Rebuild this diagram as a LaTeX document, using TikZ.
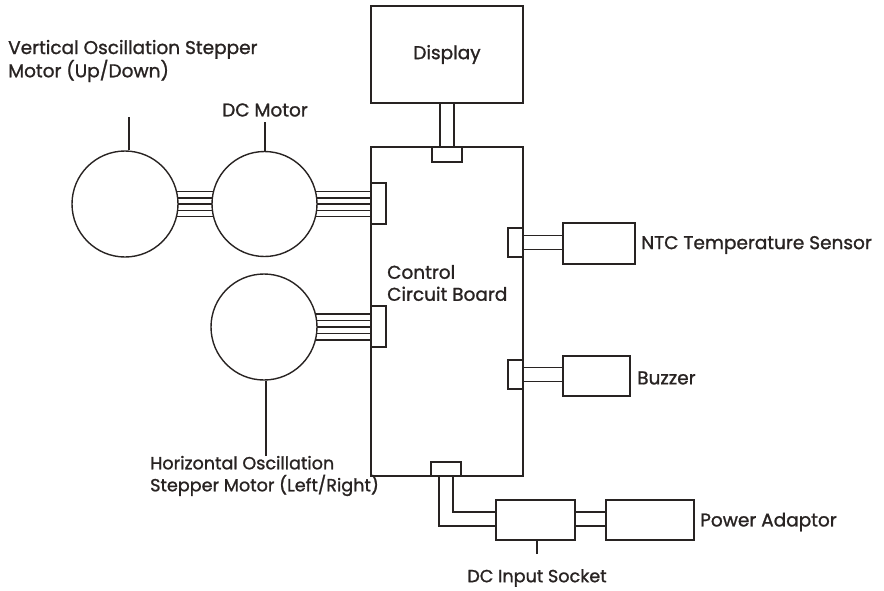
\documentclass[tikz,border=0pt]{standalone}
\usepackage{fontspec}
\setmainfont{Poppins}[FakeBold=1.2,AutoFakeBold=1.2]
\usetikzlibrary{calc}
\definecolor{ink}{RGB}{40,35,34}
\begin{document}
\begin{tikzpicture}[x=1pt,y=-1pt,
  every node/.style={font=\fontsize{18.5}{22}\selectfont\bfseries, text=ink},
  box/.style={draw=ink, line width=1.4pt, rectangle, inner sep=0pt, fill=white},
  motor/.style={draw=ink, line width=1.4pt, circle, inner sep=0pt},
  wire/.style={draw=ink, line width=1.4pt},
  lbl/.style={align=left, inner sep=0pt},
  small/.style={font=\fontsize{17.6}{22}\selectfont\bfseries}]
\useasboundingbox (0,0) rectangle (884,590);

% main boxes
\node[box, minimum width=152pt, minimum height=97pt] (display) at (447,54.5) {Display};
\node[box, minimum width=152pt, minimum height=329pt] (board) at (447,311.5) {};
\node[lbl, anchor=west] (boardlbl) at (387,283) {Control\\Circuit Board};

% connectors on the board
\node[box, minimum width=30pt, minimum height=15pt] (tconn) at (447,154.5) {};
\node[box, minimum width=15pt, minimum height=41pt] (lconnA) at (378.5,203.5) {};
\node[box, minimum width=15pt, minimum height=41pt] (lconnB) at (378.5,326.5) {};
\node[box, minimum width=15pt, minimum height=29pt] (nconn) at (515.5,242.5) {};
\node[box, minimum width=15pt, minimum height=29pt] (bzconn) at (515.5,374.5) {};
\node[box, minimum width=30pt, minimum height=14pt] (bconn) at (446,469) {};

% peripheral boxes
\node[box, minimum width=72pt, minimum height=41pt] (ntc) at (599,243.5) {};
\node[box, minimum width=67pt, minimum height=40pt] (buzz) at (596.5,376) {};
\node[box, minimum width=79pt, minimum height=40pt] (socket) at (535.5,520) {};
\node[box, minimum width=88pt, minimum height=40pt] (power) at (650,520) {};

% motors
\node[motor, minimum size=106pt] (mv) at (125,204) {};
\node[motor, minimum size=105pt] (mdc) at (264.5,204) {};
\node[motor, minimum size=106pt] (mh) at (264,327) {};

% labels
\node[lbl, anchor=west] (lv) at (8,61) {Vertical Oscillation Stepper\\Motor (Up/Down)};
\node[lbl, anchor=center] (ldc) at (265,110) {DC Motor};
\node[lbl, small, anchor=west] (lh) at (150,476) {Horizontal Oscillation\\Stepper Motor (Left/Right)};
\node[lbl, anchor=west] (lntc) at (641,245) {NTC Temperature Sensor};
\node[lbl, anchor=west] (lbz) at (637,378) {Buzzer};
\node[lbl, anchor=west] (lpw) at (700,522) {Power Adaptor};
\node[lbl, small, anchor=center] (lsock) at (537,578) {DC Input Socket};

% leader coordinates
\coordinate (sv) at (129,117);
\coordinate (sdc) at (265,122);
\coordinate (sh) at (266,456);
\coordinate (ss) at (537,554);

% stems
\draw[wire] (sv) -- (sv |- mv.north);
\draw[wire] (sdc) -- (sdc |- mdc.north);
\draw[wire] (sh) -- (sh |- mh.south);
\draw[wire] (ss) -- (ss |- socket.south);

% display cable
\foreach \d in {-7,7}
  \draw[wire] ([xshift=\d]display.south) -- ([xshift=\d]tconn.north);

% motor cables (5 wires)
\foreach \d in {-12.4,-6.2,0,6.2,12.4}{
  \draw[wire] ($(mv.center)+({sqrt(53*53-\d*\d)},\d)$) -- ($(mdc.center)+({-sqrt(52.5*52.5-\d*\d)},\d)$);
  \draw[wire] ($(mdc.center)+({sqrt(52.5*52.5-\d*\d)},\d)$) -- (lconnA.west |- {$(mdc.center)+(0,\d)$});
}
\foreach \d in {-13,-6.5,0,6.5,13}
  \draw[wire] ($(mh.center)+({sqrt(53*53-\d*\d)},\d)$) -- (lconnB.west |- {$(mh.center)+(0,\d)$});

% NTC and buzzer cables
\foreach \d in {-7,7}{
  \draw[wire] ([yshift=-\d]nconn.east) -- ([yshift=-\d]nconn.east -| ntc.west);
  \draw[wire] ([yshift=-\d]bzconn.east) -- ([yshift=-\d]bzconn.east -| buzz.west);
}

% power cables
\draw[wire] ([xshift=-7]bconn.south) |- ($(socket.west)+(0,6)$);
\draw[wire] ([xshift=7]bconn.south) |- ($(socket.west)+(0,-8)$);
\draw[wire] ($(socket.east)+(0,6)$) -- ($(power.west)+(0,6)$);
\draw[wire] ($(socket.east)+(0,-8)$) -- ($(power.west)+(0,-8)$);
\end{tikzpicture}
\end{document}
